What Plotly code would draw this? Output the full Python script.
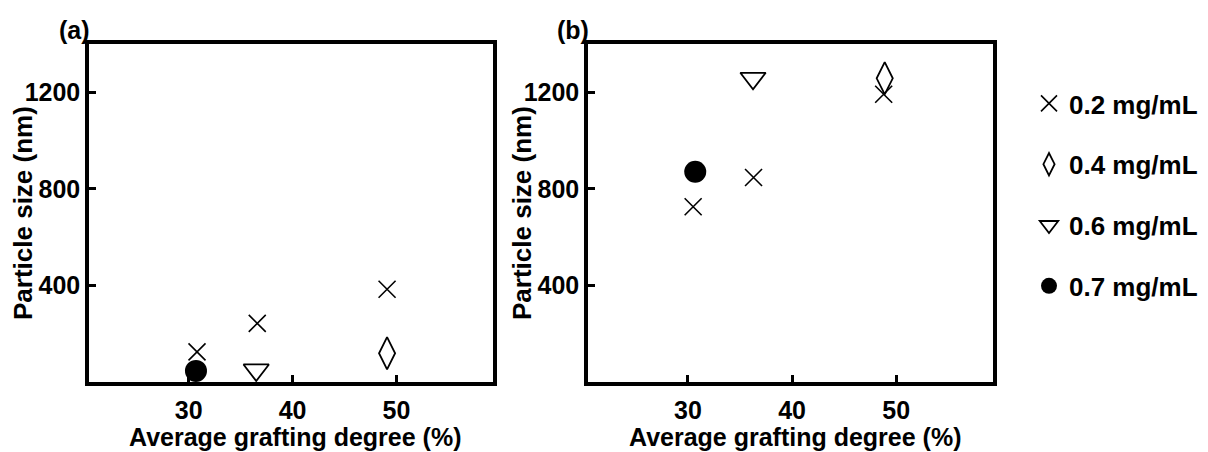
import plotly.graph_objects as go

# ---- data ----
conc_labels = ["0.2 mg/mL", "0.4 mg/mL", "0.6 mg/mL", "0.7 mg/mL"]

# panel (a)
a_x_02 = [30.8, 36.6, 49.1]
a_y_02 = [125, 243, 384]
a_x_04 = [49.1]
a_y_04 = [119]
a_x_06 = [36.5]
a_y_06 = [50]
a_x_07 = [30.7]
a_y_07 = [46]

# panel (b)
b_x_02 = [30.5, 36.3, 48.8]
b_y_02 = [726, 847, 1192]
b_x_04 = [48.9]
b_y_04 = [1258]
b_x_06 = [36.25]
b_y_06 = [1258]
b_x_07 = [30.7]
b_y_07 = [871]

x_ticks = [30, 40, 50]
y_ticks = [400, 800, 1200]
x_title = "Average grafting degree (%)"
y_title = "Particle size (nm)"
panel_labels = ["(a)", "(b)"]

FONT = "Liberation Sans, Arial, sans-serif"
W, H = 1208, 452

styles = [
    dict(symbol="x-thin-open", size=17, color="black", line=dict(width=1.6, color="black")),
    dict(symbol="diamond-tall-open", size=23, color="black", line=dict(width=1.8, color="black")),
    dict(symbol="triangle-down-open", size=22, color="black", line=dict(width=1.8, color="black")),
    dict(symbol="circle", size=22, color="black", line=dict(width=0, color="black")),
]

fig = go.Figure()

a_sets = [(a_x_02, a_y_02), (a_x_04, a_y_04), (a_x_06, a_y_06), (a_x_07, a_y_07)]
b_sets = [(b_x_02, b_y_02), (b_x_04, b_y_04), (b_x_06, b_y_06), (b_x_07, b_y_07)]

for i, (xs, ys) in enumerate(a_sets):
    fig.add_trace(go.Scatter(x=xs, y=ys, mode="markers", marker=styles[i],
                             name=conc_labels[i], legendgroup=str(i),
                             showlegend=True, cliponaxis=False,
                             xaxis="x", yaxis="y"))
for i, (xs, ys) in enumerate(b_sets):
    fig.add_trace(go.Scatter(x=xs, y=ys, mode="markers", marker=styles[i],
                             name=conc_labels[i], legendgroup=str(i),
                             showlegend=False, cliponaxis=False,
                             xaxis="x2", yaxis="y2"))

ydom = [1 - 382 / H, 1 - 44 / H]
xdom_a = [89 / W, 493 / W]
xdom_b = [588 / W, 993 / W]
xr = [20.4, 59.3]
yr = [0, 1400]

tickfont = dict(family=FONT, size=25, color="black", weight="bold")

def xaxis(dom, anchor):
    return dict(domain=dom, range=xr, anchor=anchor, tickvals=x_ticks,
                showline=True, mirror=True, linecolor="black", linewidth=3.5,
                ticks="inside", ticklen=7, tickwidth=3, tickcolor="black",
                showgrid=False, zeroline=False, tickfont=tickfont,
                ticklabelstandoff=3)

def yaxis(anchor):
    return dict(domain=ydom, range=yr, anchor=anchor, tickvals=y_ticks,
                showline=True, mirror=True, linecolor="black", linewidth=3.5,
                ticks="inside", ticklen=7, tickwidth=3, tickcolor="black",
                showgrid=False, zeroline=False, tickfont=tickfont,
                ticklabelstandoff=0)

annotations = []
bold26 = dict(family=FONT, size=26, color="black", weight="bold")
bold25 = dict(family=FONT, size=25, color="black", weight="bold")
for dom, lab in [(xdom_a, panel_labels[0]), (xdom_b, panel_labels[1])]:
    cx = (dom[0] + dom[1]) / 2
    annotations.append(dict(text=x_title, x=cx + 4 / W, y=0, xref="paper", yref="paper",
                            showarrow=False, font=bold25,
                            xanchor="center", yanchor="bottom", yshift=-1))
    annotations.append(dict(text=y_title, x=dom[0] - 66 / W, y=(ydom[0] + ydom[1]) / 2,
                            xref="paper", yref="paper", textangle=-90,
                            showarrow=False, font=bold26,
                            xanchor="center", yanchor="middle"))
    annotations.append(dict(text=lab, x=dom[0] - 15 / W, y=1 - 30 / H, xref="paper", yref="paper",
                            showarrow=False, font=bold25,
                            xanchor="center", yanchor="middle"))

fig.update_layout(
    width=W, height=H,
    margin=dict(l=0, r=0, t=0, b=0),
    paper_bgcolor="white", plot_bgcolor="white",
    xaxis=xaxis(xdom_a, "y"), yaxis=yaxis("x"),
    xaxis2=xaxis(xdom_b, "y2"), yaxis2=yaxis("x2"),
    annotations=annotations,
    showlegend=True,
    legend=dict(x=1029 / W, y=1 - 80 / H, xanchor="left", yanchor="top",
                font=bold26,
                tracegroupgap=24, traceorder="grouped", bgcolor="rgba(0,0,0,0)",
                itemwidth=30),
)

fig.write_html("out.html")
